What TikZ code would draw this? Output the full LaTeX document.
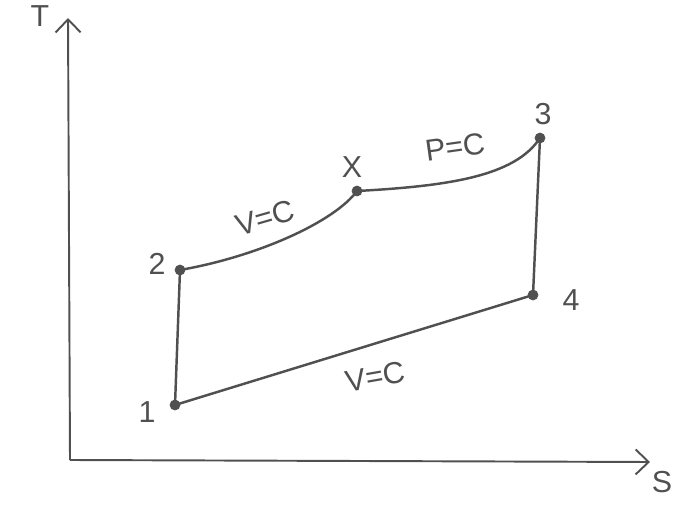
\documentclass[tikz,border=0pt]{standalone}
\usepackage{fontspec}
\setmainfont{Liberation Sans}
\usepackage{tikz}
\usetikzlibrary{arrows.meta,positioning,calc}
\usepackage{xcolor}
\definecolor{pen}{RGB}{80,80,80}

\begin{document}
\begin{tikzpicture}[every node/.style={font=\LARGE, text=pen}]
\tikzset{pnt/.style={draw=pen, fill=pen, circle, inner sep=0pt, minimum size=0.2cm}}
\tikzset{path/.style={draw=pen, line width=1.4pt, line cap=round}}
\tikzset{axis/.style={draw=pen, line width=1.1pt, -{Straight Barb[length=2.6mm,width=5mm]}}}
\useasboundingbox (0,0) rectangle (13.6,10.42);
% axes
\coordinate (o) at (1.40,1.22);
\coordinate (ttop) at (1.36,10.06);
\coordinate (send) at (13.0,1.18);
\draw[axis] (o) -- (ttop);
\draw[axis] (o) -- (send);
\node (tlab) at (0.80,10.10) {T};
\node (slab) at (13.24,0.78) {S};
% state points
\node[pnt] (p1) at (3.50,2.32) {};
\node[pnt] (p2) at (3.60,5.02) {};
\node[pnt] (px) at (7.14,6.60) {};
\node[pnt] (p3) at (10.80,7.66) {};
\node[pnt] (p4) at (10.66,4.52) {};
\node (l1) at (2.94,2.18) {1};
\node (l2) at (3.14,5.14) {2};
\node (lx) at (7.04,7.08) {X};
\node (l3) at (10.86,8.14) {3};
\node (l4) at (11.42,4.42) {4};
% cycle
\draw[path] (p1.center) -- (p2.center);
\draw[path] (p2.center) .. controls (5.2,5.30) and (6.70,6.00) .. (px.center);
\draw[path] (px.center) .. controls (9.0,6.70) and (10.3,6.90) .. (p3.center);
\draw[path] (p3.center) -- (p4.center);
\draw[path] (p4.center) -- (p1.center);
\node[rotate=16] (vc1) at (5.30,6.06) {V=C};
\node[rotate=8] (pc) at (9.10,7.48) {P=C};
\node[rotate=10] (vc2) at (7.50,2.88) {V=C};
\end{tikzpicture}
\end{document}
